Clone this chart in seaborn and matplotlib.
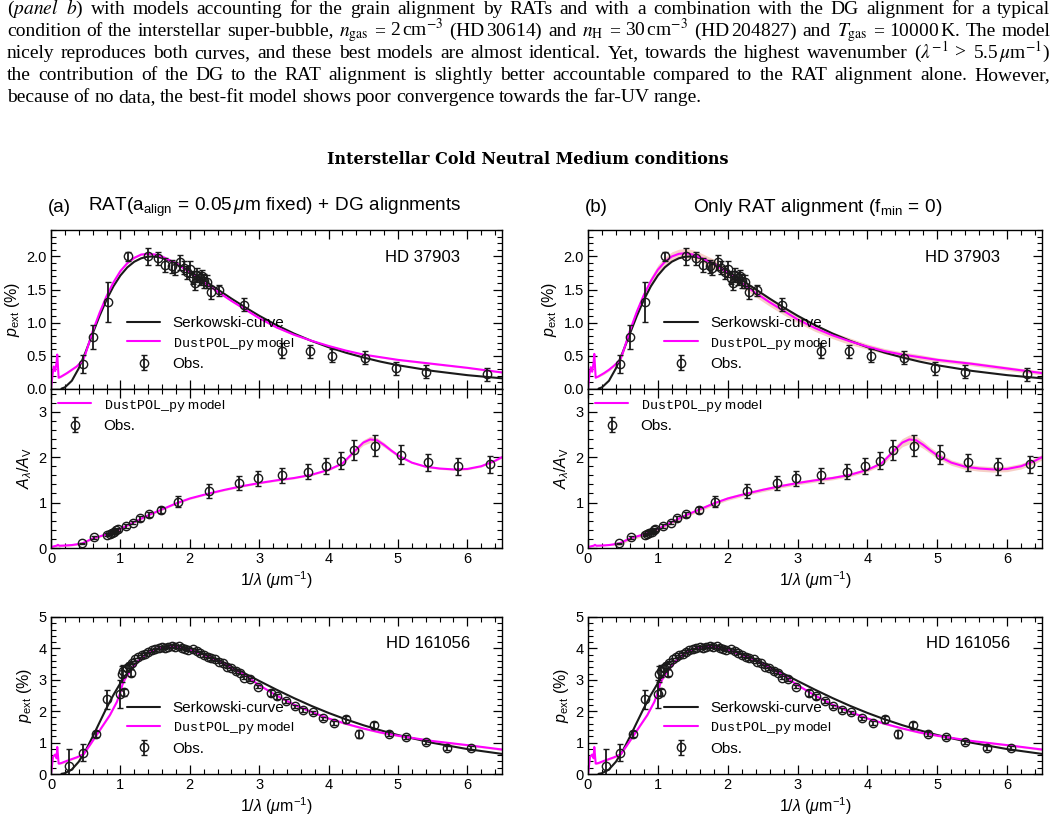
import matplotlib
matplotlib.use('Agg')
import matplotlib.pyplot as plt
import numpy as np
import seaborn as sns
from matplotlib.lines import Line2D
from matplotlib.ticker import MultipleLocator

# ---------------- data ----------------
# HD 37903 polarization: DustPOL_py model, panel (a) and (b)
x_mod1 = [0.0, 0.02, 0.04, 0.06, 0.08, 0.09, 0.11, 0.15, 0.23, 0.30, 0.37, 0.46, 0.50, 0.60, 0.70,
          0.80, 0.90, 1.00, 1.10, 1.20, 1.30, 1.40, 1.50, 1.60, 1.80, 2.00, 2.20, 2.40, 2.60, 2.80,
          3.00, 3.25, 3.50, 3.75, 4.00, 4.25, 4.50, 4.75, 5.00, 5.50, 6.00, 6.50]
p_mod1a = [0.00, 0.20, 0.34, 0.27, 0.40, 0.52, 0.17, 0.19, 0.24, 0.29, 0.34, 0.43, 0.54, 0.87, 1.15,
           1.40, 1.61, 1.78, 1.90, 1.98, 2.03, 2.04, 2.03, 2.00, 1.90, 1.76, 1.61, 1.47, 1.33, 1.20,
           1.07, 0.93, 0.82, 0.73, 0.65, 0.58, 0.52, 0.48, 0.44, 0.38, 0.32, 0.25]
p_mod1b = [0.00, 0.22, 0.33, 0.26, 0.40, 0.53, 0.17, 0.19, 0.24, 0.29, 0.35, 0.44, 0.55, 0.88, 1.17,
           1.42, 1.63, 1.80, 1.92, 2.00, 2.04, 2.05, 2.03, 1.99, 1.89, 1.75, 1.60, 1.45, 1.31, 1.18,
           1.05, 0.92, 0.81, 0.72, 0.64, 0.57, 0.52, 0.48, 0.44, 0.38, 0.31, 0.24]
band_mod1a = 0.012
band_mod1b = [0, 0, 0, 0, 0, 0, 0, 0.01, 0.02, 0.02, 0.02, 0.03, 0.03, 0.05, 0.05, 0.06, 0.06,
              0.07, 0.07, 0.07, 0.07, 0.07, 0.07, 0.07, 0.07, 0.06, 0.06, 0.06, 0.06, 0.06, 0.05,
              0.05, 0.05, 0.05, 0.04, 0.04, 0.04, 0.04, 0.03, 0.03, 0.03, 0.03]

# HD 37903 Serkowski curve
x_serk1 = [0.15, 0.20, 0.30, 0.40, 0.50, 0.60, 0.70, 0.80, 0.90, 1.00, 1.10, 1.20, 1.30, 1.38, 1.45,
           1.52, 1.60, 1.80, 2.00, 2.20, 2.40, 2.60, 2.80, 3.00, 3.25, 3.50, 3.75, 4.00, 4.25, 4.50,
           4.75, 5.00, 5.50, 6.00, 6.50]
p_serk1 = [0.005, 0.025, 0.124, 0.312, 0.562, 0.836, 1.104, 1.346, 1.550, 1.713, 1.836, 1.921, 1.973,
           1.994, 2.000, 1.995, 1.978, 1.898, 1.781, 1.646, 1.505, 1.365, 1.232, 1.106, 0.964, 0.838,
           0.728, 0.631, 0.548, 0.476, 0.413, 0.359, 0.273, 0.209, 0.161]

# HD 37903 observed polarization
x_obs1 = [0.457, 0.606, 0.818, 1.107, 1.396, 1.545, 1.650, 1.750, 1.780, 1.860, 1.910, 1.960, 2.000,
          2.050, 2.080, 2.110, 2.150, 2.180, 2.210, 2.250, 2.300, 2.420, 2.780, 3.335, 3.740, 4.050,
          4.530, 4.970, 5.400, 6.290]
p_obs1 = [0.38, 0.79, 1.31, 2.00, 2.00, 1.97, 1.87, 1.85, 1.82, 1.91, 1.83, 1.76, 1.81, 1.68, 1.60,
          1.72, 1.67, 1.70, 1.63, 1.62, 1.46, 1.49, 1.27, 0.58, 0.57, 0.50, 0.47, 0.31, 0.26, 0.22]
e_obs1 = [0.14, 0.18, 0.30, 0.07, 0.13, 0.10, 0.10, 0.10, 0.10, 0.12, 0.10, 0.10, 0.12, 0.10, 0.10,
          0.10, 0.10, 0.10, 0.10, 0.10, 0.10, 0.08, 0.10, 0.11, 0.10, 0.10, 0.10, 0.10, 0.10, 0.10]

# HD 37903 extinction model
x_ext = [0.00, 0.05, 0.08, 0.10, 0.12, 0.20, 0.30, 0.45, 0.60, 0.80, 1.00, 1.20, 1.40, 1.60, 1.80,
         2.00, 2.25, 2.50, 2.75, 3.00, 3.25, 3.50, 3.75, 4.00, 4.20, 4.40, 4.50, 4.60, 4.70, 4.80,
         4.90, 5.00, 5.20, 5.40, 5.60, 5.80, 6.00, 6.20, 6.40, 6.50]
ext_mod = [0.02, 0.04, 0.05, 0.07, 0.05, 0.055, 0.065, 0.10, 0.21, 0.30, 0.42, 0.57, 0.72, 0.85, 0.98,
           1.09, 1.19, 1.28, 1.36, 1.43, 1.49, 1.54, 1.61, 1.72, 1.86, 2.17, 2.32, 2.39, 2.37, 2.27,
           2.15, 2.04, 1.88, 1.79, 1.75, 1.73, 1.74, 1.80, 1.92, 2.00]
band_ext_a = [0.02] * 25 + [0.05, 0.06, 0.07, 0.06, 0.05, 0.04, 0.03] + [0.02] * 8
band_ext_b = [0.01] * 7 + [0.04] * 17 + [0.05, 0.08, 0.09, 0.10, 0.09, 0.08, 0.07, 0.07] + [0.06] * 8

# HD 37903 observed extinction
x_ext_obs = [0.448, 0.616, 0.810, 0.850, 0.880, 0.910, 0.940, 0.960, 1.078, 1.184, 1.280, 1.410,
             1.588, 1.824, 2.270, 2.705, 2.980, 3.330, 3.710, 3.960, 4.180, 4.370, 4.670, 5.040,
             5.440, 5.870, 6.330]
ext_obs = [0.10, 0.235, 0.29, 0.31, 0.34, 0.36, 0.39, 0.41, 0.48, 0.56, 0.65, 0.74, 0.84, 1.02, 1.25,
           1.43, 1.53, 1.60, 1.68, 1.80, 1.92, 2.15, 2.25, 2.05, 1.89, 1.80, 1.84]
e_ext_obs = [0.02, 0.03, 0.03, 0.03, 0.03, 0.03, 0.03, 0.03, 0.04, 0.04, 0.05, 0.06, 0.07, 0.12,
             0.15, 0.15, 0.16, 0.17, 0.17, 0.18, 0.19, 0.22, 0.23, 0.21, 0.19, 0.19, 0.19]

# HD 161056 polarization: DustPOL_py model
x_mod2 = [0.00, 0.03, 0.06, 0.08, 0.09, 0.11, 0.15, 0.23, 0.37, 0.47, 0.56, 0.66, 0.75, 0.85, 0.95,
          1.00, 1.03, 1.06, 1.10, 1.20, 1.30, 1.40, 1.50, 1.60, 1.70, 1.80, 1.90, 2.00, 2.20, 2.40,
          2.60, 2.80, 3.00, 3.25, 3.50, 3.75, 4.00, 4.25, 4.50, 4.75, 5.00, 5.50, 6.00, 6.50]
p_mod2 = [0.00, 0.55, 0.62, 0.50, 0.86, 0.33, 0.35, 0.42, 0.53, 0.63, 0.92, 1.25, 1.55, 1.88, 2.30,
          2.60, 2.85, 3.00, 3.15, 3.45, 3.70, 3.87, 3.97, 4.03, 4.05, 4.04, 4.00, 3.95, 3.80, 3.60,
          3.38, 3.14, 2.83, 2.50, 2.21, 1.98, 1.77, 1.60, 1.45, 1.32, 1.22, 1.05, 0.92, 0.78]
band_mod2 = 0.03

# HD 161056 Serkowski curve
x_serk2 = [0.15, 0.20, 0.30, 0.40, 0.50, 0.60, 0.70, 0.80, 0.90, 1.00, 1.10, 1.20, 1.30, 1.40, 1.50,
           1.60, 1.75, 1.90, 2.00, 2.20, 2.40, 2.60, 2.80, 3.00, 3.25, 3.50, 3.75, 4.00, 4.25, 4.50,
           4.75, 5.00, 5.50, 6.00, 6.50]
p_serk2 = [0.005, 0.026, 0.144, 0.391, 0.752, 1.185, 1.645, 2.099, 2.520, 2.894, 3.214, 3.476, 3.684,
           3.839, 3.948, 4.015, 4.050, 4.021, 3.973, 3.829, 3.639, 3.423, 3.196, 2.965, 2.685, 2.419,
           2.172, 1.945, 1.740, 1.555, 1.390, 1.241, 0.992, 0.794, 0.640]

# HD 161056 observed polarization
x_obs2 = [0.26, 0.46, 0.645, 0.813, 1.00, 1.05, 1.02, 1.04, 1.09, 1.12, 1.15, 1.165, 1.21, 1.26, 1.31,
          1.36, 1.40, 1.45, 1.50, 1.55, 1.60, 1.65, 1.69, 1.74, 1.79, 1.84, 1.89, 1.93, 1.98, 2.05,
          2.10, 2.15, 2.20, 2.26, 2.30, 2.37, 2.42, 2.48, 2.54, 2.59, 2.66, 2.72, 2.78, 2.87, 2.98,
          3.17, 3.26, 3.39, 3.51, 3.63, 3.77, 3.92, 4.08, 4.25, 4.44, 4.65, 4.87, 5.12, 5.40, 5.71, 6.06]
p_obs2 = [0.25, 0.67, 1.27, 2.38, 2.55, 2.60, 3.18, 3.28, 3.37, 3.44, 3.23, 3.55, 3.65, 3.73, 3.79,
          3.83, 3.89, 3.94, 3.97, 4.02, 4.04, 4.02, 4.06, 4.08, 4.05, 4.07, 4.02, 3.99, 3.96, 3.97,
          3.92, 3.86, 3.79, 3.73, 3.68, 3.65, 3.58, 3.52, 3.41, 3.37, 3.28, 3.23, 3.07, 3.02, 2.78,
          2.58, 2.47, 2.32, 2.15, 2.05, 1.96, 1.77, 1.62, 1.74, 1.28, 1.55, 1.28, 1.18, 1.02, 0.82, 0.84]
e_obs2 = ([0.55, 0.27, 0.10, 0.30, 0.45, 0.12, 0.25, 0.20, 0.10, 0.08, 0.10, 0.06] + [0.05] * 33 +
          [0.10, 0.08] + [0.06] * 6 + [0.12, 0.12, 0.12, 0.08, 0.07, 0.06, 0.06, 0.06])

# ---------------- text ----------------
caption_lines = [
    [r"($\mathit{panel}$", r"$\mathit{b}$)", "with", "models", "accounting", "for", "the", "grain",
     "alignment", "by", "RATs", "and", "with", "a", "combination", "with", "the", "DG", "alignment",
     "for", "a", "typical"],
    ["condition", "of", "the", "interstellar", "super-bubble,", r"$n_{\rm gas}$", "=",
     r"2$\,$cm$^{-3}$", r"(HD$\,$30614)", "and", r"$n_{\rm H}$", "=", r"30$\,$cm$^{-3}$",
     r"(HD$\,$204827)", "and", r"$T_{\rm gas}$", "=", r"10000$\,$K.", "The", "model"],
    ["nicely", "reproduces", "both", "curves,", "and", "these", "best", "models", "are", "almost",
     "identical.", "Yet,", "towards", "the", "highest", "wavenumber", r"($\lambda^{-1}$", ">",
     r"5.5$\,\mu$m$^{-1}$)"],
    ["the", "contribution", "of", "the", "DG", "to", "the", "RAT", "alignment", "is", "slightly",
     "better", "accountable", "compared", "to", "the", "RAT", "alignment", "alone.", "However,"],
    ["because", "of", "no", "data,", "the", "best-fit", "model", "shows", "poor", "convergence",
     "towards", "the", "far-UV", "range."],
]
main_title = "Interstellar Cold Neutral Medium conditions"
title_a = r"RAT$(\mathrm{a}_{\mathrm{align}}\,=\,0.05\,\mu\mathrm{m}$ fixed$)\,+\,$DG alignments"
title_b = r"Only RAT alignment $(\mathrm{f}_{\mathrm{min}}\,=\,0)$"
lab_serk = "Serkowski-curve"
lab_mod = r"$\mathtt{DustPOL\_py}$ model"
lab_obs = "Obs."

# ---------------- style ----------------
sns.set_theme(style='ticks')
plt.rcParams['font.family'] = ['Liberation Sans', 'DejaVu Sans']
plt.rcParams.update({
    'mathtext.fontset': 'custom',
    'mathtext.rm': 'Liberation Sans',
    'mathtext.it': 'Liberation Sans:italic',
    'mathtext.bf': 'Liberation Sans:bold',
    'mathtext.tt': 'Liberation Mono',
    'text.color': 'black', 'axes.labelcolor': 'black',
    'xtick.color': 'black', 'ytick.color': 'black',
    'axes.edgecolor': 'black', 'axes.linewidth': 1.0,
})

W, H = 1056, 822
fig = plt.figure(figsize=(W / 100, H / 100), dpi=100)

MAG = '#ff00ff'
BAND = '#f0a898'
LEG_FS = 11
MOD_FS = 9.6


def axes_px(left, top, right, bottom):
    return fig.add_axes([left / W, 1 - bottom / H, (right - left) / W, (bottom - top) / H])


def style(ax, ymaj, ymin, ylim, xlabels=True):
    ax.set_xlim(0, 6.5)
    ax.set_ylim(*ylim)
    ax.xaxis.set_major_locator(MultipleLocator(1))
    ax.xaxis.set_minor_locator(MultipleLocator(0.2))
    ax.yaxis.set_major_locator(MultipleLocator(ymaj))
    ax.yaxis.set_minor_locator(MultipleLocator(ymin))
    ax.tick_params(which='both', direction='in', top=True, right=True, labelsize=10.5, pad=3)
    ax.tick_params(which='major', length=6.5, width=0.9)
    ax.tick_params(which='minor', length=3.5, width=0.8)
    if not xlabels:
        ax.tick_params(labelbottom=False)
    else:
        ax.set_xlabel(r"$1/\lambda$ ($\mu$m$^{-1}$)", fontsize=11.5, labelpad=2)
    for s in ax.spines.values():
        s.set_linewidth(1.0)


def obs(ax, x, y, e):
    return ax.errorbar(x, y, yerr=e, fmt='o', mfc='none', mec='k', ecolor='k', ms=6, mew=1.0,
                       elinewidth=1.3, capsize=2.2, capthick=1.2, zorder=3)


def pol_panel(ax, xm, pm, band, xs, ps, xo, po, eo, star, ylim, ymaj, ymin, star_x, xlabels):
    lo = np.array(pm) - np.array(band)
    hi = np.array(pm) + np.array(band)
    ax.fill_between(xm, lo, hi, color=BAND, alpha=0.55, lw=0, zorder=1)
    sns.lineplot(x=xs, y=ps, ax=ax, color='k', lw=1.5, sort=False, estimator=None, zorder=2)
    sns.lineplot(x=xm, y=pm, ax=ax, color=MAG, lw=1.5, sort=False, estimator=None, zorder=2)
    eb = obs(ax, xo, po, eo)
    style(ax, ymaj, ymin, ylim, xlabels)
    ax.set_ylabel(r"$p_{\rm ext}$ (%)", fontsize=11.5, labelpad=3)
    ax.text(star_x, 0.83, star, transform=ax.transAxes, ha='right', va='center', fontsize=12)
    handles = [Line2D([], [], color='k', lw=1.5), Line2D([], [], color=MAG, lw=1.5), eb]
    return handles


def ext_panel(ax, band):
    lo = np.array(ext_mod) - np.array(band)
    hi = np.array(ext_mod) + np.array(band)
    ax.fill_between(x_ext, lo, hi, color=BAND, alpha=0.55, lw=0, zorder=1)
    sns.lineplot(x=x_ext, y=ext_mod, ax=ax, color=MAG, lw=1.5, sort=False, estimator=None, zorder=2)
    eb = obs(ax, x_ext_obs, ext_obs, e_ext_obs)
    style(ax, 1, 0.2, (0, 3.5), True)
    ax.set_ylabel(r"$A_{\lambda}/A_{\rm V}$", fontsize=11.5, labelpad=3)
    leg = ax.legend([Line2D([], [], color=MAG, lw=1.5), eb], [lab_mod, lab_obs], loc='center left',
                    bbox_to_anchor=(0.015, 0.835), frameon=False, fontsize=LEG_FS, handlelength=2.2,
                    handletextpad=0.8, labelspacing=0.35, borderpad=0, borderaxespad=0)
    leg.get_texts()[0].set_fontsize(MOD_FS)


def pol_legend(ax, handles, y):
    leg = ax.legend(handles, [lab_serk, lab_mod, lab_obs], loc='center left',
                    bbox_to_anchor=(0.168, y), frameon=False, fontsize=LEG_FS, handlelength=2.2,
                    handletextpad=0.8, labelspacing=0.35, borderpad=0, borderaxespad=0)
    leg.get_texts()[1].set_fontsize(MOD_FS)


columns = [
    dict(left=51, right=502, pm1=p_mod1a, band1=band_mod1a, bext=band_ext_a),
    dict(left=588, right=1042, pm1=p_mod1b, band1=band_mod1b, bext=band_ext_b),
]
for c in columns:
    ax1 = axes_px(c['left'], 230, c['right'], 389)
    h = pol_panel(ax1, x_mod1, c['pm1'], c['band1'], x_serk1, p_serk1, x_obs1, p_obs1, e_obs1,
                  "HD 37903", (0, 2.4), 0.5, 0.1, 0.907, False)
    pol_legend(ax1, h, 0.285)
    ax2 = axes_px(c['left'], 389, c['right'], 548)
    ext_panel(ax2, c['bext'])
    ax3 = axes_px(c['left'], 617, c['right'], 774)
    h = pol_panel(ax3, x_mod2, p_mod2, band_mod2, x_serk2, p_serk2, x_obs2, p_obs2, e_obs2,
                  "HD 161056", (0, 5), 1, 0.2, 0.929, True)
    pol_legend(ax3, h, 0.29)

# panel titles
fig.text(48 / W, 1 - 207 / H, "(a)", fontsize=13.5, va='center')
fig.text(88 / W, 1 - 207 / H, title_a, fontsize=13.7, va='center')
fig.text(585 / W, 1 - 207 / H, "(b)", fontsize=13.5, va='center')
fig.text(693 / W, 1 - 207 / H, title_b, fontsize=13.7, va='center')

# main title
fig.text(0.5, 1 - 159 / H, main_title, fontsize=11.5, fontweight='bold', family='DejaVu Serif',
         ha='center', va='center')

# caption (justified)
fig.canvas.draw()
renderer = fig.canvas.get_renderer()
x0, x1 = 7, 1050
baselines = [14, 36, 58, 80, 102]
for i, (words, yb) in enumerate(zip(caption_lines, baselines)):
    texts = [fig.text(0, 1 - yb / H, w, fontsize=14, family='Liberation Serif',
                      math_fontfamily='stix', va='baseline', ha='left') for w in words]
    widths = [t.get_window_extent(renderer).width for t in texts]
    if i < len(caption_lines) - 1:
        gap = (x1 - x0 - sum(widths)) / (len(words) - 1)
    else:
        gap = 4.5
    xp = x0
    for t, wdt in zip(texts, widths):
        t.set_x(xp / W)
        xp += wdt + gap

fig.savefig('out.png', dpi=100)
